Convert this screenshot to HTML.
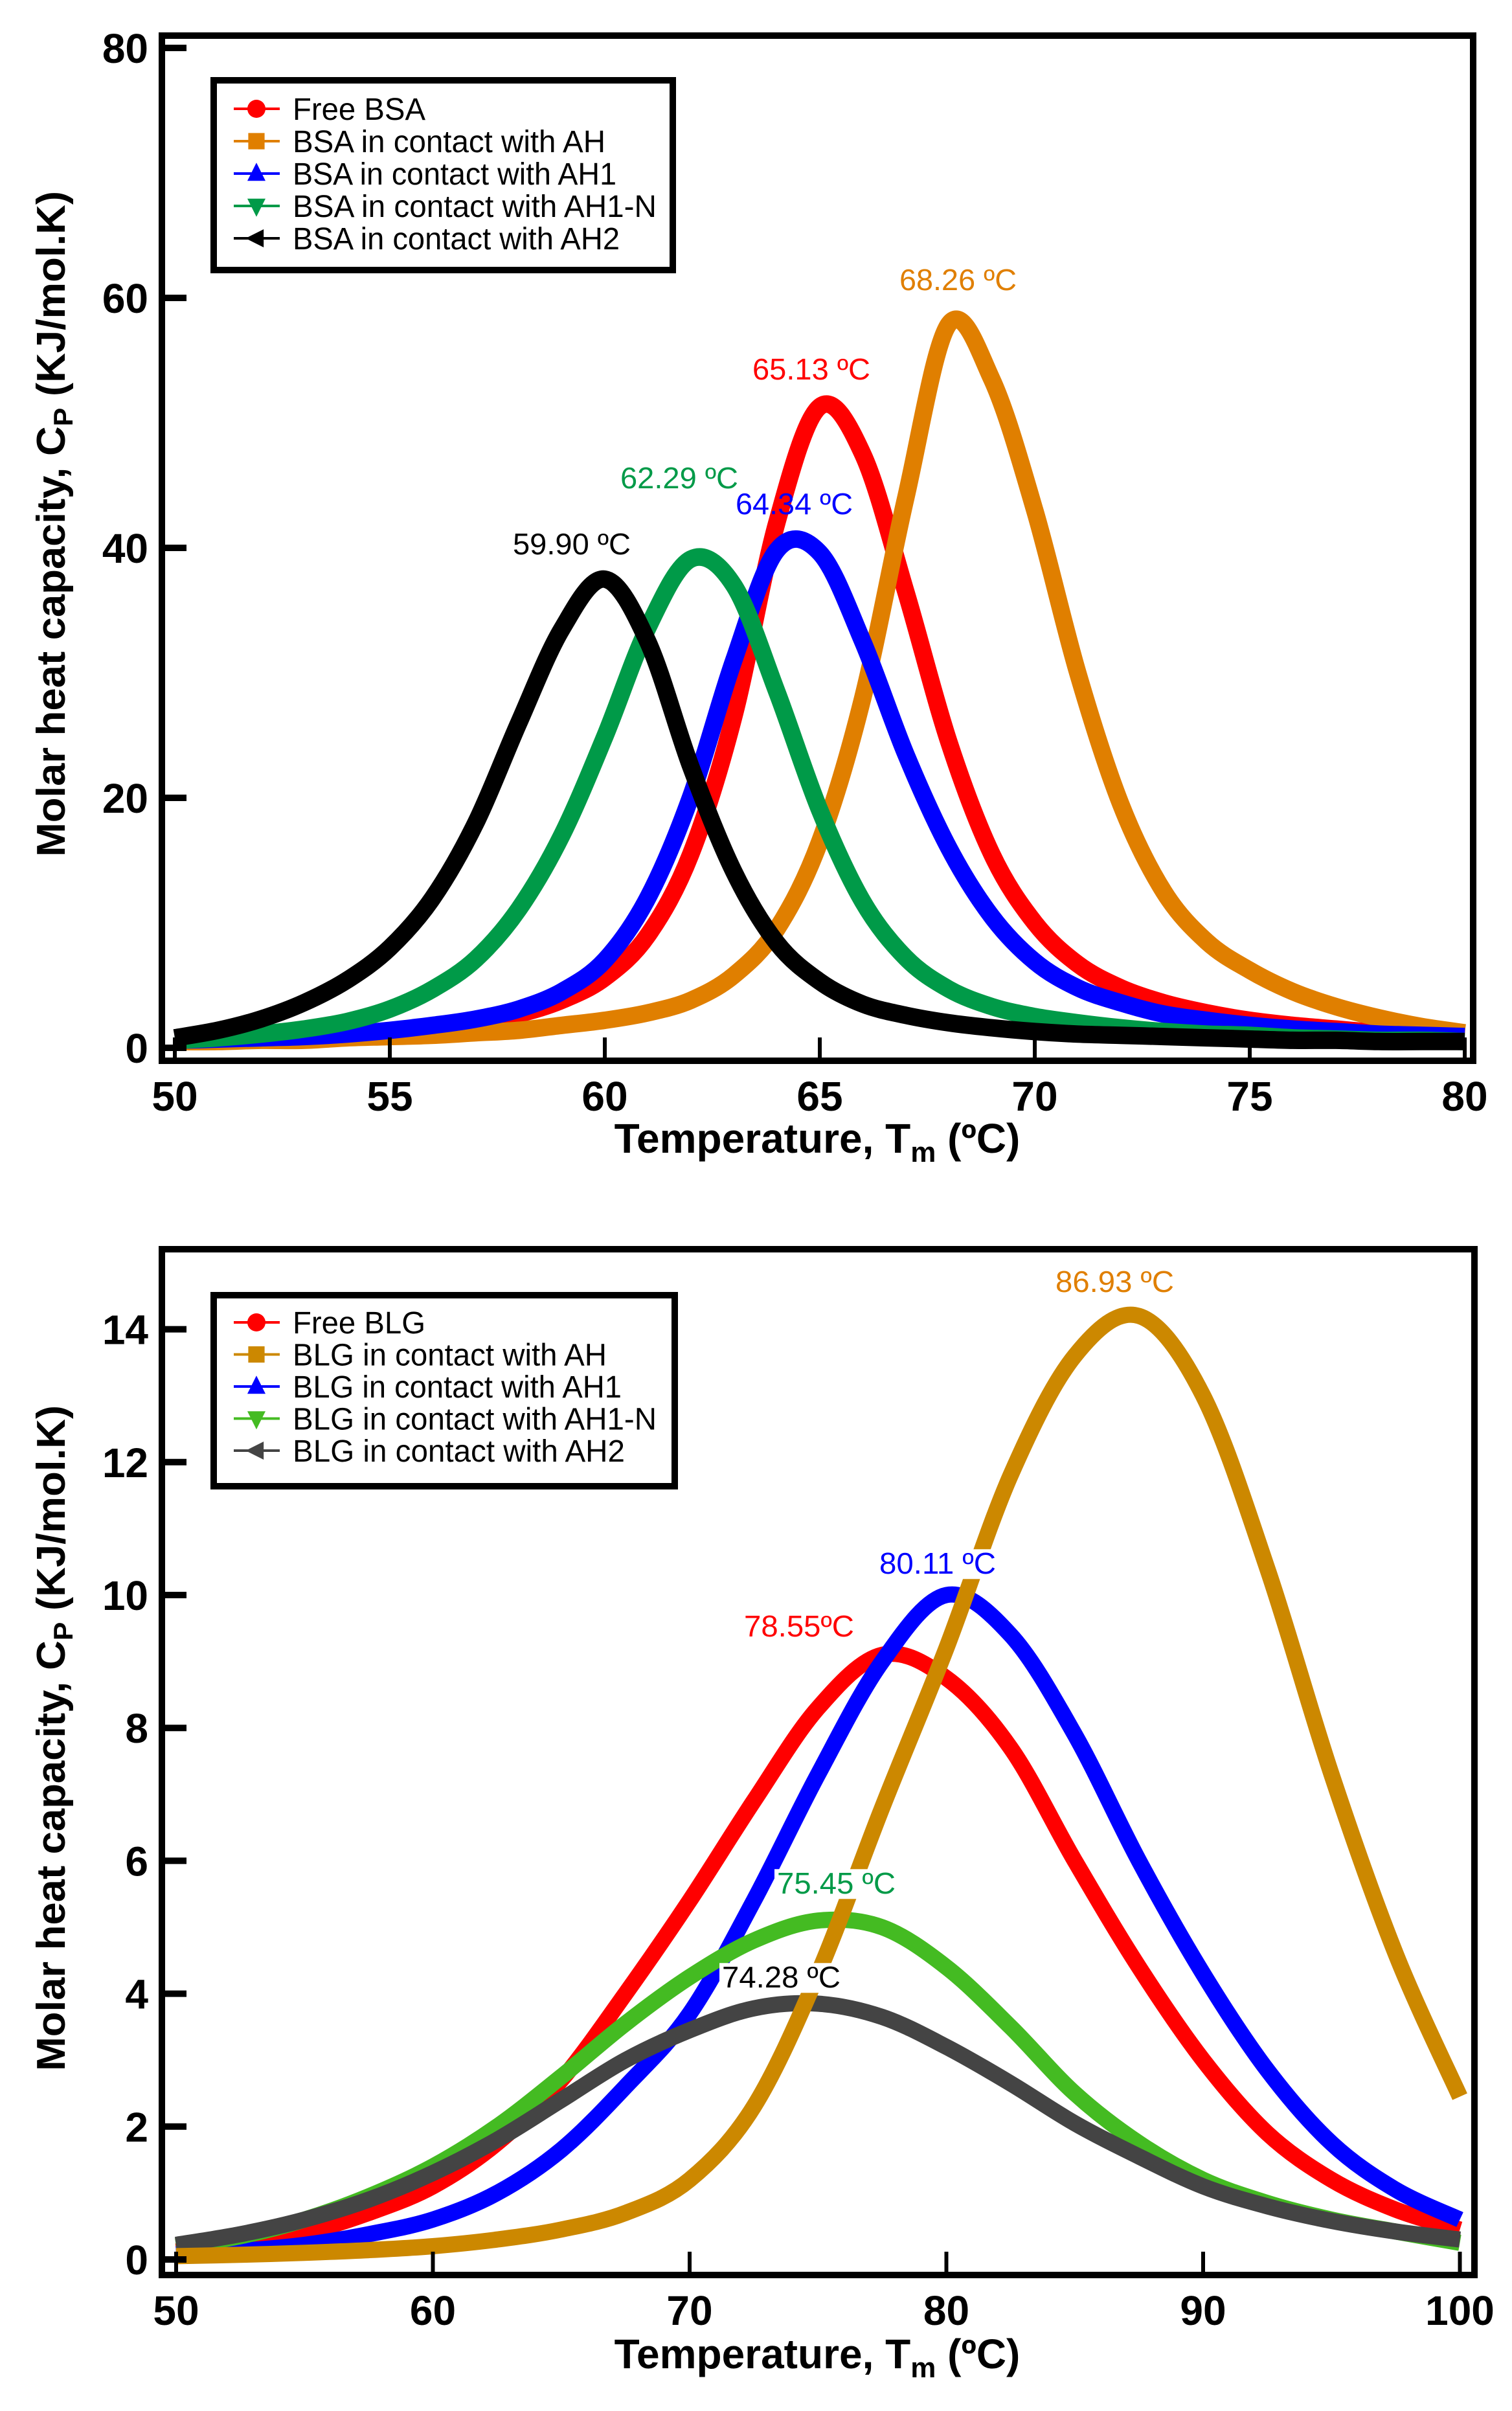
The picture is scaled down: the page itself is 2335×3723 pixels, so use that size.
<!DOCTYPE html>
<html><head><meta charset="utf-8">
<style>
html,body{margin:0;padding:0;background:#fff;}
svg{display:block;}
text{font-family:"Liberation Sans",Arial,sans-serif;}
</style></head>
<body>
<svg id="fig" xmlns="http://www.w3.org/2000/svg" width="2335" height="3723" viewBox="0 0 2335 3723"></svg>
<script>
// ---------- Top chart data (BSA) ----------
const topTemps = [50,51,52,53,54,55,56,57,58,59,60,61,62,63,64,65,66,67,68,69,70,71,72,73,74,75,76,77,78,79,80];
const topFree = [0.6,0.7,0.8,0.9,1.1,1.3,1.6,2.0,2.7,3.8,5.6,9.0,15.5,26.5,42.0,51.3,47.5,36.5,24.5,15.5,10.0,6.7,4.8,3.6,2.8,2.2,1.8,1.5,1.2,1.0,0.8];
const topAH = [0.5,0.5,0.6,0.6,0.8,0.9,1.0,1.2,1.4,1.8,2.2,2.8,3.8,5.8,9.5,16.5,28.0,44.0,57.9,53.5,43.0,30.0,19.5,12.5,8.5,6.2,4.5,3.3,2.4,1.7,1.2];
const topAH1 = [0.6,0.7,0.8,0.9,1.1,1.4,1.8,2.3,3.1,4.5,7.0,12.0,20.1,31.0,39.8,39.6,32.5,23.5,16.0,10.5,6.9,4.8,3.6,2.7,2.2,1.8,1.5,1.3,1.1,1.0,0.9];
const topAH1N = [0.6,0.8,1.1,1.5,2.1,3.1,4.7,7.1,11.1,17.0,24.9,33.6,39.1,37.0,28.5,19.0,11.7,7.2,4.7,3.3,2.5,2.0,1.6,1.3,1.1,1.0,0.8,0.7,0.6,0.6,0.5];
const topAH2 = [0.8,1.4,2.3,3.6,5.4,8.0,12.0,18.0,26.0,33.5,37.5,32.5,22.5,14.1,8.4,5.3,3.5,2.6,2.0,1.6,1.3,1.1,1.0,0.9,0.8,0.7,0.6,0.6,0.5,0.5,0.5];
const topXTicks = [50,55,60,65,70,75,80];
const topYTicks = [0,20,40,60,80];
const topLegend = ["Free BSA","BSA in contact with AH","BSA in contact with AH1","BSA in contact with AH1-N","BSA in contact with AH2"];
const topPeakLabels = ["65.13 \u00baC","68.26 \u00baC","64.34 \u00baC","62.29 \u00baC","59.90 \u00baC"];

// ---------- Bottom chart data (BLG) ----------
const botTemps = [50,52.5,55,57.5,60,62.5,65,67.5,70,72.5,75,77.5,80,82.5,85,87.5,90,92.5,95,97.5,100];
const botFree = [0.12,0.22,0.4,0.7,1.1,1.75,2.7,4.0,5.4,6.9,8.3,9.1,8.75,7.7,6.0,4.4,3.0,1.9,1.2,0.75,0.45];
const botAH = [0.05,0.07,0.1,0.14,0.2,0.3,0.45,0.7,1.2,2.3,4.3,6.8,9.2,11.8,13.6,14.2,13.0,10.4,7.3,4.6,2.45];
const botAH1 = [0.08,0.13,0.22,0.38,0.6,1.0,1.65,2.6,3.7,5.4,7.3,9.0,10.0,9.4,7.9,6.0,4.3,2.85,1.75,1.05,0.6];
const botAH1N = [0.2,0.35,0.6,0.95,1.4,2.0,2.75,3.55,4.25,4.8,5.1,5.0,4.4,3.5,2.5,1.75,1.2,0.85,0.6,0.42,0.25];
const botAH2 = [0.22,0.38,0.6,0.9,1.3,1.8,2.4,3.0,3.45,3.78,3.85,3.65,3.2,2.65,2.05,1.55,1.1,0.8,0.58,0.42,0.3];
const botXTicks = [50,60,70,80,90,100];
const botYTicks = [0,2,4,6,8,10,12,14];
const botLegend = ["Free BLG","BLG in contact with AH","BLG in contact with AH1","BLG in contact with AH1-N","BLG in contact with AH2"];
const botPeakLabels = ["78.55\u00baC","86.93 \u00baC","80.11 \u00baC","75.45 \u00baC","74.28 \u00baC"];

const NS = "http://www.w3.org/2000/svg";
const svg = document.getElementById('fig');
function mk(tag, attrs, parent){
  const e = document.createElementNS(NS, tag);
  for (const k in attrs) e.setAttribute(k, attrs[k]);
  (parent||svg).appendChild(e);
  return e;
}
function smoothPath(pts){
  let d = "M"+pts[0][0].toFixed(1)+","+pts[0][1].toFixed(1);
  for (let i=0;i<pts.length-1;i++){
    const p0=pts[Math.max(0,i-1)], p1=pts[i], p2=pts[i+1], p3=pts[Math.min(pts.length-1,i+2)];
    const c1x=p1[0]+(p2[0]-p0[0])/6, c1y=p1[1]+(p2[1]-p0[1])/6;
    const c2x=p2[0]-(p3[0]-p1[0])/6, c2y=p2[1]-(p3[1]-p1[1])/6;
    d+=" C"+c1x.toFixed(1)+","+c1y.toFixed(1)+" "+c2x.toFixed(1)+","+c2y.toFixed(1)+" "+p2[0].toFixed(1)+","+p2[1].toFixed(1);
  }
  return d;
}
function marker(g, type, cx, cy, color, s){
  let el;
  if (type==='circle') el = mk('circle',{cx:cx,cy:cy,r:s*0.5,fill:color},g);
  else if (type==='square') el = mk('rect',{x:cx-s*0.45,y:cy-s*0.45,width:s*0.9,height:s*0.9,fill:color},g);
  else if (type==='up') el = mk('polygon',{points:(cx)+","+(cy-s*0.6)+" "+(cx-s*0.5)+","+(cy+s*0.4)+" "+(cx+s*0.5)+","+(cy+s*0.4),fill:color},g);
  else if (type==='down') el = mk('polygon',{points:(cx)+","+(cy+s*0.6)+" "+(cx-s*0.5)+","+(cy-s*0.4)+" "+(cx+s*0.5)+","+(cy-s*0.4),fill:color},g);
  else el = mk('polygon',{points:(cx-s*0.6)+","+(cy)+" "+(cx+s*0.4)+","+(cy-s*0.5)+" "+(cx+s*0.4)+","+(cy+s*0.5),fill:color},g);
  return el;
}

function drawChart(cfg){
  const g = mk('g',{});
  
  
  const X = v => cfg.x0 + (v - cfg.xmin) * cfg.xs;
  const Y = v => cfg.y0 - v * cfg.ys;

  const sg = mk('g',{fill:'none','stroke-linejoin':'round','stroke-linecap':'butt'},g);
  
  
  cfg.order.forEach(i=>{
    const vals = cfg.series[i];
    const pts = cfg.temps.map((t,j)=>[X(t),Y(vals[j])]);
    const p = mk('path',{d:smoothPath(pts),stroke:cfg.colors[i],'stroke-width':cfg.sw},sg);
    
    
  });

  cfg.peaks.forEach((pk,i)=>{
    if (cfg.labelBg){
      const r = mk('rect',{x:pk[0]-4,y:pk[1]-cfg.lfs*0.82,width:pk[2]+8,height:cfg.lfs*1.0,fill:'#fff'},g);
      
      
    }
    const t = mk('text',{x:pk[0],y:pk[1],'font-size':cfg.lfs,fill:cfg.labelColors[i],textLength:pk[2],lengthAdjust:'spacingAndGlyphs'},g);
    t.textContent = cfg.peakLabels[i];
    
    
  });

  const fr = mk('rect',{x:cfg.fx0,y:cfg.fy0,width:cfg.fx1-cfg.fx0,height:cfg.fy1-cfg.fy0,fill:'none',stroke:'#000','stroke-width':10},g);
  
  

  cfg.xticks.forEach(v=>{
    const l = mk('line',{x1:X(v),x2:X(v),y1:cfg.fy1,y2:cfg.fy1-36,stroke:'#000','stroke-width':6},g);
    
    
    const t = mk('text',{x:X(v),y:cfg.xlabY,'font-size':64,'font-weight':'bold','text-anchor':'middle',fill:'#000'},g);
    t.textContent = v;
    
    
  });
  cfg.yticks.forEach(v=>{
    const l = mk('line',{x1:cfg.fx0,x2:cfg.fx0+38,y1:Y(v),y2:Y(v),stroke:'#000','stroke-width':10},g);
    
    
    const t = mk('text',{x:229,y:Y(v)+23,'font-size':64,'font-weight':'bold','text-anchor':'end',fill:'#000'},g);
    t.textContent = v;
    
    
  });

  const xt = mk('text',{x:1262,y:cfg.xtitleY,'font-size':64,'font-weight':'bold','text-anchor':'middle',fill:'#000'},g);
  
  
  xt.appendChild(document.createTextNode('Temperature, T'));
  const sub = mk('tspan',{'font-size':44,dy:14},xt); sub.textContent='m';
  const rest = mk('tspan',{dy:-14},xt); rest.textContent=' (\u00baC)';

  const yt = mk('text',{x:0,y:0,'font-size':62,'font-weight':'bold','text-anchor':'middle',fill:'#000',
    transform:'translate(100,'+cfg.ytitleY+') rotate(-90)',textLength:1028,lengthAdjust:'spacingAndGlyphs'},g);
  
  
  yt.appendChild(document.createTextNode('Molar heat capacity, C'));
  const s2 = mk('tspan',{'font-size':42,dy:12},yt); s2.textContent='P';
  const r2 = mk('tspan',{dy:-12},yt); r2.textContent=' (KJ/mol.K)';

  const lg = mk('g',{},g);
  
  
  const lb = mk('rect',{x:cfg.lx0,y:cfg.ly0,width:cfg.lx1-cfg.lx0,height:cfg.ly1-cfg.ly0,fill:'#fff',stroke:'#000','stroke-width':10},lg);
  
  
  const types = ['circle','square','up','down','left'];
  cfg.legend.forEach((name,i)=>{
    const cy = cfg.lrow0 + i*cfg.lstep;
    const e = mk('g',{},lg);
    
    
    mk('line',{x1:361,x2:432,y1:cy,y2:cy,stroke:cfg.colors[i],'stroke-width':4},e);
    marker(e,types[i],396,cy,cfg.colors[i],28);
    const t = mk('text',{x:452,y:cy+17,'font-size':48,fill:'#000',textLength:cfg.legW[i],lengthAdjust:'spacingAndGlyphs'},e);
    t.textContent = name;
  });
}

drawChart({
  name:'bsa-chart', keys:['free','ah','ah1','ah1n','ah2'],
  temps: topTemps, series:[topFree,topAH,topAH1,topAH1N,topAH2],
  colors:['#ff0000','#e07f00','#0000ff','#009a48','#000000'],
  labelColors:['#ff0000','#e07f00','#0000ff','#009a48','#000000'],
  order:[0,1,2,3,4], sw:27,
  xmin:50, x0:270, xs:66.4, y0:1618, ys:19.3,
  fx0:250, fx1:2275, fy0:55, fy1:1638,
  xticks: topXTicks, yticks: topYTicks,
  xlabY:1715, xtitleY:1780, ytitleY:809,
  lx0:330, lx1:1039, ly0:124, ly1:417, lrow0:168, lstep:50,
  legend: topLegend, legW:[205,483,500,562,505],
  peakLabels: topPeakLabels, lfs:46, labelBg:false,
  peaks:[[1162,586,182],[1389,448,181],[1136,794,181],[958,754,182],[792,856,182]]
});

drawChart({
  name:'blg-chart', keys:['free','ah','ah1','ah1n','ah2'],
  temps: botTemps, series:[botFree,botAH,botAH1,botAH1N,botAH2],
  colors:['#ff0000','#cc8800','#0000ff','#44bb22','#444444'],
  labelColors:['#ff0000','#e07f00','#0000ff','#009a48','#000000'],
  order:[0,2,3,4,1], sw:25,
  xmin:50, x0:272, xs:39.65, y0:3489, ys:102.6,
  fx0:250, fx1:2277, fy0:1929, fy1:3513,
  xticks: botXTicks, yticks: botYTicks,
  xlabY:3590, xtitleY:3657, ytitleY:2684,
  lx0:330, lx1:1042, ly0:2000, ly1:2295, lrow0:2042, lstep:49.5,
  legend: botLegend, legW:[205,485,508,562,513],
  peakLabels: botPeakLabels, lfs:46, labelBg:true,
  peaks:[[1149,2527,170],[1630,1995,183],[1358,2430,180],[1200,2924,183],[1115,3069,183]]
});
</script>
</body></html>
